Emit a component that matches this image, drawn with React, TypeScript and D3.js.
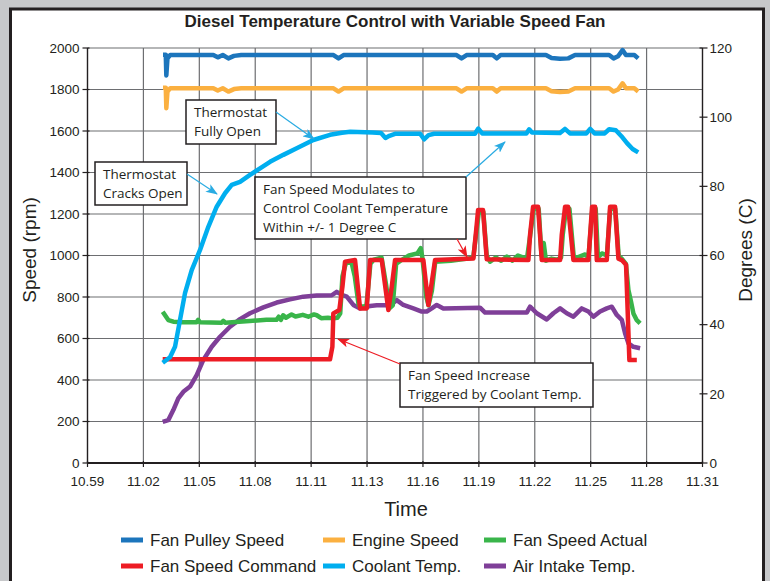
import React from "react";
import * as d3 from "d3";

// ---- data (x in time-tick units: 0 = 10.59 ... 11 = 11.31) ----
const tickLabels = ["10.59","11.02","11.05","11.08","11.11","11.13","11.16","11.19","11.22","11.25","11.28","11.31"];
const speedTicks = [0,200,400,600,800,1000,1200,1400,1600,1800,2000];
const degTicks = [0,20,40,60,80,100,120];

const fanPulleySpeed: [number, number][] = [
  [1.35,1968],[1.40,1968],[1.41,1868],[1.43,1950],[1.48,1966],[2.25,1966],[2.33,1955],[2.42,1966],[2.52,1950],[2.62,1962],[2.75,1966],
  [4.4,1966],[4.49,1950],[4.58,1966],[6.6,1966],[6.69,1950],[6.78,1966],[7.25,1966],[7.32,1950],[7.39,1966],[8.2,1966],[8.3,1952],
  [8.45,1948],[8.6,1950],[8.72,1966],[9.33,1966],[9.41,1950],[9.49,1960],[9.57,1990],[9.63,1966],[9.78,1966],[9.85,1950]
];
const engineSpeed: [number, number][] = [
  [1.35,1808],[1.40,1808],[1.41,1710],[1.43,1790],[1.48,1806],[2.25,1806],[2.33,1795],[2.42,1806],[2.52,1790],[2.62,1802],[2.75,1806],
  [4.4,1806],[4.49,1790],[4.58,1806],[6.6,1806],[6.69,1790],[6.78,1806],[7.25,1806],[7.32,1790],[7.39,1806],[8.2,1806],[8.3,1792],
  [8.45,1788],[8.6,1790],[8.72,1806],[9.33,1806],[9.41,1790],[9.49,1800],[9.57,1830],[9.63,1806],[9.78,1806],[9.85,1790]
];
const fanSpeedActual: [number, number][] = [
  [1.345,729],[1.445,689],[1.535,681],[1.7,678],[1.95,678],[1.98,690],[2.01,678],[2.4,676],[2.43,685],[2.46,676],[2.9,684],[3.2,690],
  [3.38,690],[3.42,705],[3.46,690],[3.5,712],[3.55,700],[3.65,716],[3.72,706],[3.85,714],[3.95,705],[4.05,716],[4.1,712],[4.18,698],
  [4.3,700],[4.4,697],[4.47,700],[4.52,720],[4.56,900],[4.62,962],[4.72,970],[4.78,900],[4.85,760],[4.93,752],[4.99,760],[5.06,960],
  [5.12,980],[5.26,990],[5.34,860],[5.4,745],[5.46,760],[5.52,960],[5.6,975],[5.75,1000],[5.9,1010],[5.96,1035],[5.99,990],[6.06,800],
  [6.1,760],[6.16,830],[6.22,970],[6.5,975],[6.8,985],[6.9,990],[6.95,1100],[7.0,1210],[7.08,1210],[7.14,1000],[7.2,970],[7.3,990],
  [7.4,975],[7.5,995],[7.6,975],[7.7,1000],[7.8,990],[7.86,985],[7.92,1100],[7.98,1225],[8.07,1225],[8.12,1000],[8.16,1060],[8.2,975],
  [8.3,985],[8.4,980],[8.47,990],[8.5,1100],[8.56,1225],[8.62,1225],[8.7,985],[8.8,995],[8.9,1005],[8.96,990],[9.03,1225],[9.09,1225],
  [9.13,990],[9.2,1010],[9.29,1000],[9.35,1225],[9.44,1225],[9.5,1000],[9.57,980],[9.63,960],[9.675,834],[9.72,780],[9.764,721],
  [9.82,690],[9.884,673]
];
const fanSpeedCommand: [number, number][] = [
  [1.345,500],[4.338,500],[4.38,560],[4.397,721],[4.504,737],[4.56,850],[4.606,970],[4.785,978],[4.875,745],[4.995,745],[5.054,978],
  [5.263,978],[5.381,737],[5.442,850],[5.501,978],[6.007,978],[6.097,761],[6.157,870],[6.216,978],[6.902,985],[6.962,1150],[6.986,1219],
  [7.075,1219],[7.141,982],[7.886,978],[7.916,1100],[7.97,1235],[8.059,1235],[8.125,978],[8.453,978],[8.483,1100],[8.542,1235],
  [8.596,1235],[8.691,978],[8.959,978],[9.025,1235],[9.079,1235],[9.109,978],[9.288,978],[9.347,1235],[9.436,1235],[9.496,985],
  [9.556,978],[9.633,955],[9.692,496],[9.825,496]
];
const coolantTemp: [number, number][] = [
  [1.345,29],[1.476,30.6],[1.565,33.6],[1.655,41.4],[1.744,49.1],[1.864,55.8],[2.013,61.6],[2.161,68.3],[2.311,74.1],[2.46,78],
  [2.58,80.4],[2.728,81.3],[2.907,83.3],[3.086,85.2],[3.265,87.1],[3.503,89.1],[3.742,91],[4.039,93.4],[4.338,94.9],[4.55,95.5],
  [4.7,95.8],[5.1,95.6],[5.25,95.4],[5.33,94.0],[5.4,94.6],[5.5,95.2],[5.95,95.2],[6.02,93.6],[6.1,94.8],[6.2,95.2],[6.93,95.2],
  [6.99,96.7],[7.06,95.3],[7.85,95.3],[7.9,96.5],[7.95,95.6],[8.45,95.4],[8.54,96.6],[8.63,95.3],[8.92,95.3],[8.99,96.6],[9.07,95.3],
  [9.25,95.3],[9.33,96.5],[9.45,96.2],[9.55,94.5],[9.65,92.5],[9.75,90.8],[9.85,89.8]
];
const airIntakeTemp: [number, number][] = [
  [1.345,11.9],[1.445,12.4],[1.535,15.3],[1.624,18.7],[1.714,20.6],[1.834,22.1],[1.953,25.4],[2.072,29.8],[2.222,33.6],[2.37,36.5],
  [2.549,39.4],[2.728,41.6],[2.907,43.3],[3.145,45.0],[3.385,46.4],[3.623,47.3],[3.86,48.1],[4.1,48.4],[4.369,48.5],[4.458,49.5],
  [4.547,48.6],[4.637,48.1],[4.755,45.7],[4.875,44.7],[5.054,45.4],[5.174,45.6],[5.411,45.6],[5.531,47.1],[5.649,45.7],[5.828,44.7],
  [5.979,43.8],[6.068,43.8],[6.157,44.7],[6.247,45.7],[6.365,44.7],[7.021,44.9],[7.111,43.5],[7.857,43.5],[7.916,45.2],[8.036,43.3],
  [8.215,41.5],[8.333,43.3],[8.453,44.7],[8.572,43.3],[8.691,42.3],[8.841,44.7],[8.959,43.8],[9.048,42.3],[9.168,43.8],[9.288,44.7],
  [9.377,45.2],[9.467,42.8],[9.556,41.4],[9.615,37.5],[9.675,34.6],[9.764,33.6],[9.884,33.2]
];

const seriesNames = ["Fan Pulley Speed","Engine Speed","Fan Speed Actual","Fan Speed Command","Coolant Temp.","Air Intake Temp."];
const seriesColors = ["#1C75BC","#FBB040","#39B54A","#ED1C24","#00AEEF","#7F3F98"];

export default function App() {
  const x = d3.scaleLinear().domain([0, 11]).range([87.5, 702.5]);
  const yL = d3.scaleLinear().domain([0, 2000]).range([463, 48]);
  const yR = d3.scaleLinear().domain([0, 120]).range([463, 48]);
  const lineL = d3.line<[number, number]>().x(d => x(d[0])).y(d => yL(d[1]));
  const lineR = d3.line<[number, number]>().x(d => x(d[0])).y(d => yR(d[1]));
  const axisFont = "'Liberation Sans', Arial, sans-serif";
  const noteFont = "'Open Sans', sans-serif";
  const lw = 4.5;

  const drawOrder: { data: [number, number][]; gen: any; color: string }[] = [
    { data: fanPulleySpeed, gen: lineL, color: seriesColors[0] },
    { data: engineSpeed, gen: lineL, color: seriesColors[1] },
    { data: airIntakeTemp, gen: lineR, color: seriesColors[5] },
    { data: fanSpeedActual, gen: lineL, color: seriesColors[2] },
    { data: fanSpeedCommand, gen: lineL, color: seriesColors[3] },
    { data: coolantTemp, gen: lineR, color: seriesColors[4] },
  ];

  const legendCols = [121, 323, 484];
  const legendRows = [540, 566];

  const box = (bx: number, by: number, bw: number, bh: number, lines: string[], lh: number) => (
    <g>
      <rect x={bx} y={by} width={bw} height={bh} fill="#fff" stroke="#231F20" strokeWidth={1.5} />
      {lines.map((t, i) => (
        <text key={i} x={bx + 8} y={by + 17 + i * lh} fontFamily={noteFont} fontSize={13.5} fill="#231F20">{t}</text>
      ))}
    </g>
  );

  return (
    <svg width={770} height={581} style={{ position: "absolute", left: 0, top: 0 }}>
      <defs>
        <marker id="arrBlue" viewBox="0 0 12 9" refX="11" refY="4.5" markerWidth="12" markerHeight="9" markerUnits="userSpaceOnUse" orient="auto">
          <path d="M0,0 L12,4.5 L0,9 L3,4.5 z" fill="#29ABE2" />
        </marker>
        <marker id="arrRed" viewBox="0 0 12 9" refX="11" refY="4.5" markerWidth="12" markerHeight="9" markerUnits="userSpaceOnUse" orient="auto">
          <path d="M0,0 L12,4.5 L0,9 L3,4.5 z" fill="#ED1C24" />
        </marker>
      </defs>
      <rect x={0} y={0} width={770} height={581} fill="#C7C8CA" />
      <rect x={10.5} y={9} width={753} height={600} fill="#fff" stroke="#231F20" strokeWidth={3} />

      <text x={395} y={27} textAnchor="middle" fontFamily={axisFont} fontWeight="bold" fontSize={17} fill="#231F20">
        Diesel Temperature Control with Variable Speed Fan
      </text>

      {/* grid */}
      {speedTicks.map(t => (
        <line key={"h" + t} x1={x(0)} x2={x(11)} y1={yL(t)} y2={yL(t)} stroke="#6D6E71" strokeWidth={1.2} />
      ))}
      {tickLabels.map((_, i) => (
        <line key={"v" + i} x1={x(i)} x2={x(i)} y1={yL(0)} y2={yL(2000)} stroke="#6D6E71" strokeWidth={1.2} />
      ))}
      {/* axes */}
      <line x1={x(0)} x2={x(0)} y1={yL(0)} y2={yL(2000)} stroke="#231F20" strokeWidth={1.3} />
      <line x1={x(11)} x2={x(11)} y1={yR(0)} y2={yR(120)} stroke="#231F20" strokeWidth={1.3} />
      <line x1={x(0)} x2={x(11)} y1={yL(0)} y2={yL(0)} stroke="#231F20" strokeWidth={2} />
      {speedTicks.map(t => (
        <g key={"lt" + t}>
          <line x1={x(0) - 5} x2={x(0) + 2} y1={yL(t)} y2={yL(t)} stroke="#231F20" strokeWidth={1.2} />
          <text x={x(0) - 8} y={yL(t)} dy="0.35em" textAnchor="end" fontFamily={axisFont} fontSize={13.5} fill="#231F20">{t}</text>
        </g>
      ))}
      {degTicks.map(t => (
        <g key={"rt" + t}>
          <line x1={x(11) - 3} x2={x(11) + 5} y1={yR(t)} y2={yR(t)} stroke="#231F20" strokeWidth={1.2} />
          <text x={x(11) + 7} y={yR(t)} dy="0.35em" textAnchor="start" fontFamily={axisFont} fontSize={13.5} fill="#231F20">{t}</text>
        </g>
      ))}
      {tickLabels.map((l, i) => (
        <g key={"xt" + i}>
          <line x1={x(i)} x2={x(i)} y1={yL(0) - 2} y2={yL(0) + 4} stroke="#231F20" strokeWidth={1.2} />
          <text x={x(i)} y={486} textAnchor="middle" fontFamily={axisFont} fontSize={13.5} fill="#231F20">{l}</text>
        </g>
      ))}

      <text x={406} y={516} textAnchor="middle" fontFamily={axisFont} fontSize={20} fill="#231F20">Time</text>
      <text transform="translate(36,250) rotate(-90)" textAnchor="middle" fontFamily={axisFont} fontSize={19} fill="#231F20">Speed (rpm)</text>
      <text transform="translate(752,250) rotate(-90)" textAnchor="middle" fontFamily={axisFont} fontSize={19} fill="#231F20">Degrees (C)</text>

      {/* series */}
      {drawOrder.map((s, i) => (
        <path key={i} d={s.gen(s.data)} fill="none" stroke={s.color} strokeWidth={lw} strokeLinejoin="round" />
      ))}

      {/* annotations */}
      {box(186, 100, 90, 44, ["Thermostat", "Fully Open"], 19)}
      <line x1={276} y1={112} x2={314} y2={139} stroke="#29ABE2" strokeWidth={1.2} markerEnd="url(#arrBlue)" />
      {box(95, 162, 92, 43, ["Thermostat", "Cracks Open"], 19)}
      <line x1={187} y1={174} x2={217} y2={194} stroke="#29ABE2" strokeWidth={1.2} markerEnd="url(#arrBlue)" />
      {box(255, 177, 211, 62, ["Fan Speed Modulates to", "Control Coolant Temperature", "Within +/- 1 Degree C"], 19)}
      <line x1={466} y1={177} x2={505} y2={142} stroke="#29ABE2" strokeWidth={1.2} markerEnd="url(#arrBlue)" />
      <line x1={457} y1={239} x2={467} y2={257} stroke="#ED1C24" strokeWidth={1.2} markerEnd="url(#arrRed)" />
      {box(400, 363, 193, 44, ["Fan Speed Increase", "Triggered by Coolant Temp."], 19)}
      <line x1={400} y1={364} x2={338} y2={339} stroke="#ED1C24" strokeWidth={1.2} markerEnd="url(#arrRed)" />

      {/* legend */}
      {seriesNames.map((n, i) => {
        const cx = legendCols[i % 3];
        const cy = legendRows[Math.floor(i / 3)];
        return (
          <g key={n}>
            <line x1={cx} x2={cx + 22} y1={cy} y2={cy} stroke={seriesColors[i]} strokeWidth={5} />
            <text x={cx + 29} y={cy} dy="0.35em" fontFamily={axisFont} fontSize={17} fill="#231F20">{n}</text>
          </g>
        );
      })}
    </svg>
  );
}
